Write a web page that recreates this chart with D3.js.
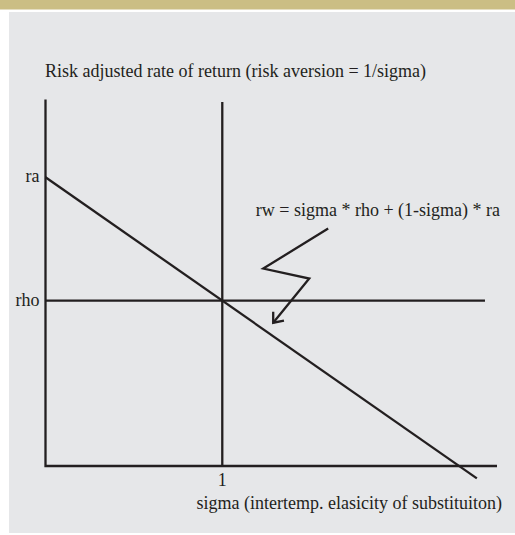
<!DOCTYPE html>
<html>
<head>
<meta charset="utf-8">
<script src="https://cdn.jsdelivr.net/npm/d3@7"></script>
<style>
  body { margin: 0; background: #fff; }
  svg text { font-family: "Liberation Serif", "Times New Roman", serif; fill: #231f20; }
</style>
</head>
<body>
<div id="chart"></div>
<script>
// axis extents (sigma on x, rate of return on y)
var sigmaDomain = [0, 2.554];
var rwDomain = [0.66, 3.63];

// the two rates
var rho = 2;
var ra = 3;

var yLabels = ["ra", "rho"];
var yValues = [ra, rho];
var xTicks = [1];

// lines
var rhoLineEnd = 2.486;     // flat rho line stops here
var diagEnd = 2.44;         // rw line stops here
var sigmaOneTop = 3.61;     // vertical line at sigma = 1

// zigzag arrow pointing at the rw line (sigma, rw)
var arrowSigma = [1.599, 1.232, 1.492, 1.288];
var arrowRw = [2.585, 2.260, 2.179, 1.821];

var titleText = "Risk adjusted rate of return (risk aversion = 1/sigma)";
var xTitleText = "sigma (intertemp. elasicity of substituiton)";
var eqText = "rw = sigma * rho + (1-sigma) * ra";

var W = 515, H = 535;
var fs = 18;

var svg = d3.select("#chart").append("svg")
    .attr("width", W)
    .attr("height", H);

// gold band at the top and grey panel
svg.append("rect").attr("x", 0).attr("y", 0).attr("width", W).attr("height", 9.5).attr("fill", "#cbbe84");
svg.append("rect").attr("x", 9).attr("y", 12).attr("width", W - 9).attr("height", 521).attr("fill", "#e6e7e9");

var x = d3.scaleLinear().domain(sigmaDomain).range([45.5, 497]);
var y = d3.scaleLinear().domain(rwDomain).range([466, 99.5]);

var ink = "#231f20";
var sw = 2.3;

function rw(s) { return s * rho + (1 - s) * ra; }

var line = d3.line()
    .x(function(d) { return x(d[0]); })
    .y(function(d) { return y(d[1]); });

var g = svg.append("g");

// axes: plain lines, labels added by hand
g.append("path")
    .attr("d", line([[sigmaDomain[0], rwDomain[1]], [sigmaDomain[0], rwDomain[0]], [sigmaDomain[1], rwDomain[0]]]))
    .attr("fill", "none").attr("stroke", ink).attr("stroke-width", sw);

// vertical at sigma = 1
g.append("path")
    .attr("d", line([[1, sigmaOneTop], [1, rwDomain[0]]]))
    .attr("fill", "none").attr("stroke", ink).attr("stroke-width", sw);

// rho line
g.append("path")
    .attr("d", line([[0, rho], [rhoLineEnd, rho]]))
    .attr("fill", "none").attr("stroke", ink).attr("stroke-width", sw);

// rw line
g.append("path")
    .attr("d", line([[0, rw(0)], [diagEnd, rw(diagEnd)]]))
    .attr("fill", "none").attr("stroke", ink).attr("stroke-width", sw);

// zigzag arrow
var pts = arrowSigma.map(function(s, i) { return [s, arrowRw[i]]; });
g.append("path")
    .attr("d", line(pts))
    .attr("fill", "none").attr("stroke", ink).attr("stroke-width", sw)
    .attr("stroke-linejoin", "miter");

// open arrow head at the last point
var tip = pts[pts.length - 1], prev = pts[pts.length - 2];
var tx = x(tip[0]), ty = y(tip[1]);
var ang = Math.atan2(ty - y(prev[1]), tx - x(prev[0]));
var len = 11, spread = Math.PI / 4.6;
g.append("path")
    .attr("d", "M" + (tx - len * Math.cos(ang - spread)) + "," + (ty - len * Math.sin(ang - spread)) +
               "L" + tx + "," + ty +
               "L" + (tx - len * Math.cos(ang + spread)) + "," + (ty - len * Math.sin(ang + spread)))
    .attr("fill", "none").attr("stroke", ink).attr("stroke-width", sw)
    .attr("stroke-linejoin", "miter");

// y labels
g.selectAll(".ylab")
    .data(yLabels)
    .enter().append("text")
    .attr("class", "ylab")
    .attr("x", x(0) - 6)
    .attr("y", function(d, i) { return y(yValues[i]) + 5; })
    .attr("text-anchor", "end")
    .attr("font-size", fs)
    .text(function(d) { return d; });

// x tick label
g.selectAll(".xlab")
    .data(xTicks)
    .enter().append("text")
    .attr("class", "xlab")
    .attr("x", function(d) { return x(d); })
    .attr("y", 486)
    .attr("text-anchor", "middle")
    .attr("font-size", fs)
    .text(function(d) { return d; });

// titles
svg.append("text")
    .attr("x", 45)
    .attr("y", 77)
    .attr("font-size", fs)
    .text(titleText);

svg.append("text")
    .attr("x", 502)
    .attr("y", 509)
    .attr("text-anchor", "end")
    .attr("font-size", fs)
    .text(xTitleText);

svg.append("text")
    .attr("x", 500)
    .attr("y", 216)
    .attr("text-anchor", "end")
    .attr("font-size", fs)
    .text(eqText);
</script>
</body>
</html>
